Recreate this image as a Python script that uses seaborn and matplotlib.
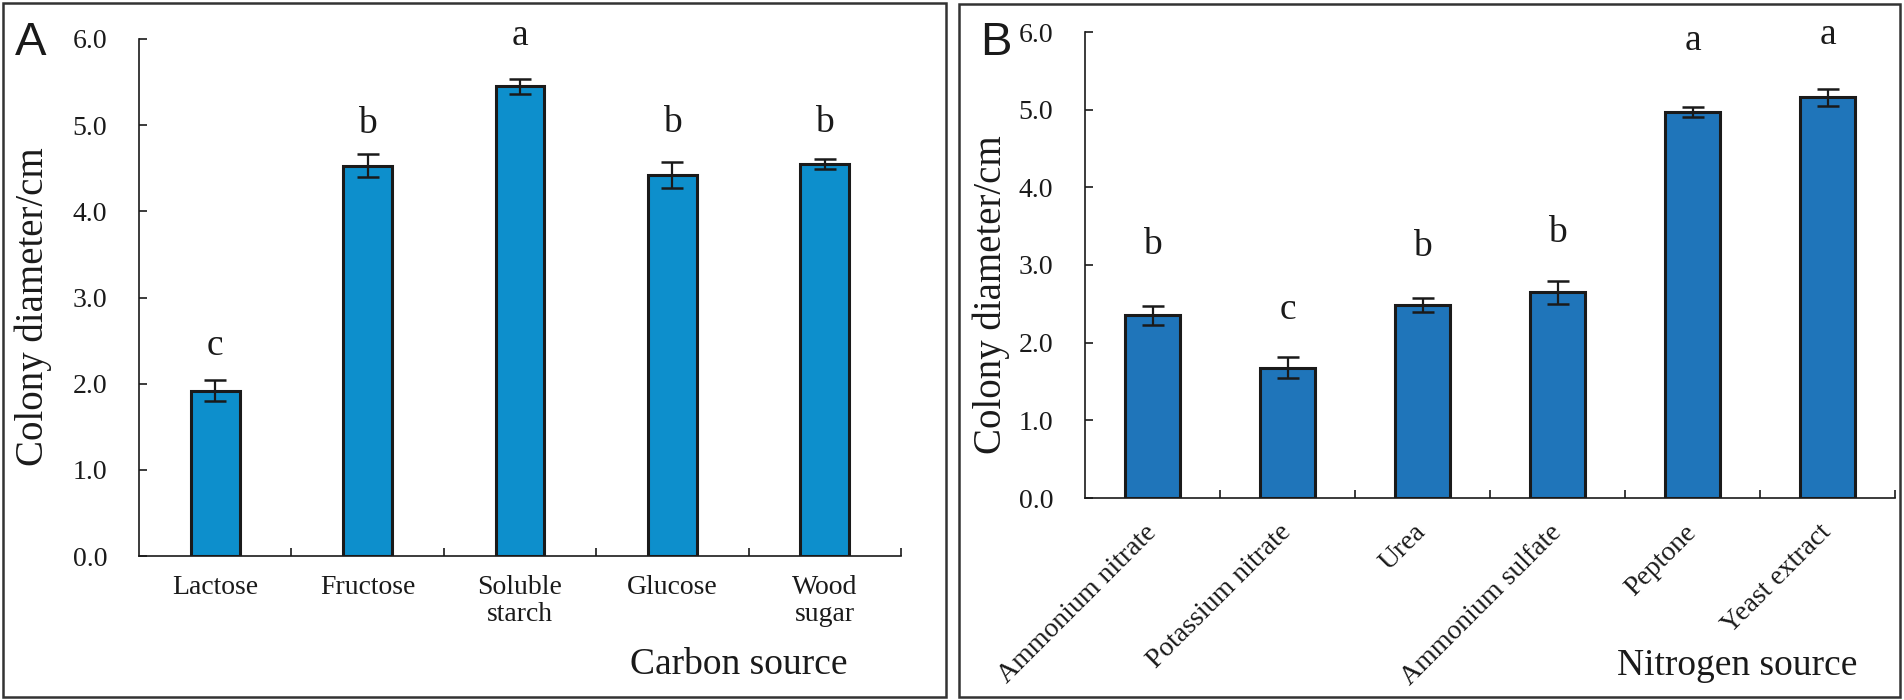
import matplotlib
matplotlib.use("Agg")
import matplotlib.pyplot as plt
from matplotlib.patches import Rectangle
from matplotlib.ticker import FixedLocator, FormatStrFormatter
import seaborn as sns
import pandas as pd

# ---- data ----
carbon_sources = ["Lactose", "Fructose", "Soluble\nstarch", "Glucose", "Wood\nsugar"]
carbon_means = [1.92, 4.53, 5.45, 4.42, 4.55]
carbon_errs = [0.12, 0.13, 0.09, 0.15, 0.06]
carbon_letters = ["c", "b", "a", "b", "b"]
carbon_letter_y = [2.33, 4.91, 5.93, 4.92, 4.92]

nitrogen_sources = ["Ammonium nitrate", "Potassium nitrate", "Urea",
                    "Ammonium sulfate", "Peptone", "Yeast extract"]
nitrogen_means = [2.35, 1.68, 2.48, 2.65, 4.97, 5.16]
nitrogen_errs = [0.12, 0.13, 0.09, 0.15, 0.06, 0.11]
nitrogen_letters = ["b", "c", "b", "b", "a", "a"]
nitrogen_letter_y = [3.14, 2.30, 3.12, 3.30, 5.77, 5.84]

y_ticks = [0, 1, 2, 3, 4, 5, 6]

sns.set_style("ticks")
SERIF = ["Liberation Serif", "DejaVu Serif"]
plt.rcParams["font.family"] = SERIF
TXT = "#1a1a1a"
plt.rcParams["text.color"] = TXT
plt.rcParams["axes.labelcolor"] = TXT
plt.rcParams["xtick.color"] = TXT
plt.rcParams["ytick.color"] = TXT

W, H = 1904, 700
fig = plt.figure(figsize=(W / 100, H / 100), dpi=100)


def px_axes(l, t, r, b):
    return fig.add_axes([l / W, 1 - b / H, (r - l) / W, (b - t) / H])


axA = px_axes(139, 39, 901, 556)
axB = px_axes(1085, 32, 1895, 498)


def draw(ax, cats, means, errs, letters, letter_y, color, width):
    df = pd.DataFrame({"cat": cats, "val": means})
    sns.barplot(data=df, x="cat", y="val", ax=ax, color=color, width=width,
                edgecolor="#1a1a1a", linewidth=2.2, errorbar=None,
                saturation=1)
    xs = list(range(len(cats)))
    ax.errorbar(xs, means, yerr=errs, fmt="none", ecolor="#1a1a1a",
                elinewidth=1.6, capsize=8, capthick=1.8, zorder=5)
    for x, yv, s in zip(xs, letter_y, letters):
        ax.text(x, yv, s, ha="center", va="baseline", fontsize=27,
                family=SERIF, color=TXT, clip_on=False)
    ax.set_xlim(-0.5, len(cats) - 0.5)
    ax.set_ylim(0, 6)
    ax.yaxis.set_major_locator(FixedLocator(y_ticks))
    ax.yaxis.set_major_formatter(FormatStrFormatter("%.1f"))
    ax.xaxis.set_minor_locator(FixedLocator([i + 0.5 for i in xs]))
    ax.tick_params(axis="y", direction="in", length=6, width=1.2,
                   labelsize=20, pad=23)
    ax.tick_params(axis="x", which="major", length=0, labelsize=20)
    ax.tick_params(axis="x", which="minor", direction="in", length=6,
                   width=1.2)
    for lab in ax.get_yticklabels() + ax.get_xticklabels():
        lab.set_family(SERIF)
    for side in ("top", "right"):
        ax.spines[side].set_visible(False)
    for side in ("left", "bottom"):
        ax.spines[side].set_linewidth(1.2)
        ax.spines[side].set_color("#1a1a1a")
    ax.set_xlabel("")


draw(axA, carbon_sources, carbon_means, carbon_errs, carbon_letters,
     carbon_letter_y, "#0d8fcc", 0.32)
draw(axB, nitrogen_sources, nitrogen_means, nitrogen_errs, nitrogen_letters,
     nitrogen_letter_y, "#1f75ba", 0.41)

# x tick labels
axA.tick_params(axis="x", which="major", pad=14)
for lab in axA.get_xticklabels():
    lab.set_linespacing(1.1)
axB.tick_params(axis="x", which="major", pad=22)
for lab in axB.get_xticklabels():
    lab.set_rotation(45)
    lab.set_ha("right")
    lab.set_va("center")
    lab.set_rotation_mode("anchor")

# axis labels
axA.set_ylabel("Colony diameter/cm", fontsize=28, va="center", family=SERIF)
axA.yaxis.set_label_coords(-0.139, 0.483)
axB.set_ylabel("Colony diameter/cm", fontsize=28, va="center", family=SERIF)
axB.yaxis.set_label_coords(-0.116, 0.436)
axA.text(0.787, -0.211, "Carbon source", transform=axA.transAxes,
         ha="center", va="center", fontsize=27, family=SERIF)
axB.text(0.805, -0.36, "Nitrogen source", transform=axB.transAxes,
         ha="center", va="center", fontsize=27, family=SERIF)

# panel letters
fig.text(15 / W, 1 - 55 / H, "A", fontsize=34, family="Liberation Sans",
         ha="left", va="baseline", color=TXT)
fig.text(980 / W, 1 - 55 / H, "B", fontsize=34, family="Liberation Sans",
         ha="left", va="baseline", color=TXT)

# panel frames
for (l, t, r, b) in [(3, 3, 946, 697), (959, 4, 1900, 697)]:
    fig.add_artist(Rectangle((l / W, 1 - b / H), (r - l) / W, (b - t) / H,
                             transform=fig.transFigure, fill=False,
                             edgecolor="#333333", linewidth=1.8))

fig.savefig("out.png", dpi=100)
